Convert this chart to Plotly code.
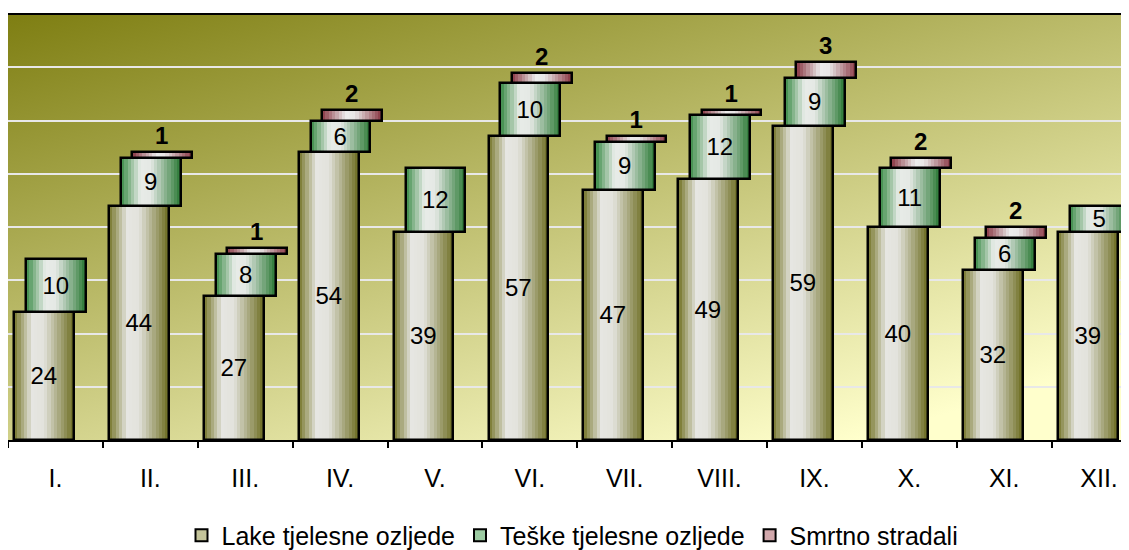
import base64
import plotly.graph_objects as go

months = ["I.", "II.", "III.", "IV.", "V.", "VI.", "VII.", "VIII.", "IX.", "X.", "XI.", "XII."]
lake = [24, 44, 27, 54, 39, 57, 47, 49, 59, 40, 32, 39]
teske = [10, 9, 8, 6, 12, 10, 9, 12, 9, 11, 6, 5]
smrtno = [0, 1, 1, 2, 0, 2, 1, 1, 3, 2, 2, 0]
names = ["Lake tjelesne ozljede", "Teške tjelesne ozljede", "Smrtno stradali"]

BAR_W = 0.63
N_STRIPS = 18


def hex2rgb(h):
    h = h.lstrip("#")
    return tuple(int(h[i:i + 2], 16) for i in (0, 2, 4))


def grad_color(stops, t):
    for (t0, c0), (t1, c1) in zip(stops, stops[1:]):
        if t0 <= t <= t1:
            f = (t - t0) / (t1 - t0) if t1 > t0 else 0
            a, b = hex2rgb(c0), hex2rgb(c1)
            return "rgb(%d,%d,%d)" % tuple(round(a[k] + (b[k] - a[k]) * f) for k in range(3))
    return "rgb(%d,%d,%d)" % hex2rgb(stops[-1][1])


series = [
    dict(values=lake, base=[0] * 12, offset=-0.435,
         stops=[(0, "#76762A"), (0.3, "#E6E6E2"), (0.5, "#E2E2DC"), (1, "#6E6E22")],
         legend="#C4C49A", textpos="inside"),
    dict(values=teske, base=lake, offset=-0.31,
         stops=[(0, "#3A8A46"), (0.32, "#E8ECE8"), (0.5, "#E4E8E4"), (1, "#2C7A36")],
         legend="#9CCBA2", textpos="inside"),
    dict(values=[v if v else None for v in smrtno],
         base=[a + b for a, b in zip(lake, teske)], offset=-0.19,
         stops=[(0, "#8A3844"), (0.4, "#ECECEC"), (0.55, "#E8E6E6"), (1, "#8A3844")],
         legend="#D2A8AC", textpos="outside"),
]

fig = go.Figure()
sw = BAR_W / N_STRIPS
for idx, s in enumerate(series):
    for i in range(N_STRIPS):
        t = (i + 0.5) / N_STRIPS
        fig.add_trace(go.Bar(
            x=months, y=s["values"], base=s["base"],
            offset=s["offset"] + i * sw, width=sw * 1.08,
            marker=dict(color=grad_color(s["stops"], t), line=dict(width=0)),
            showlegend=False, hoverinfo="skip"))
    if s["textpos"] == "inside":
        text = [str(v) for v in s["values"]]
    else:
        text = ["<b>%d</b>" % v if v else "" for v in smrtno]
    fig.add_trace(go.Bar(
        x=months, y=s["values"], base=s["base"],
        offset=s["offset"], width=BAR_W,
        marker=dict(color="rgba(0,0,0,0)", line=dict(color="black", width=2.5)),
        text=text, textposition=s["textpos"], insidetextanchor="middle",
        constraintext="none", textangle=0,
        textfont=dict(family="Liberation Sans, Arial, sans-serif", size=24, color="black"),
        cliponaxis=False, showlegend=False, hoverinfo="skip"))

for idx, s in enumerate(series):
    fig.add_trace(go.Bar(
        x=[None], y=[None], name=names[idx],
        marker=dict(color=s["legend"], line=dict(color="black", width=2))))

svg = ('<svg xmlns="http://www.w3.org/2000/svg" width="1122" height="426" '
       'viewBox="0 0 1122 426" preserveAspectRatio="none"><defs>'
       '<linearGradient id="g" x1="0" y1="0" x2="0.75" y2="1">'
       '<stop offset="0" stop-color="#7E7E12"/>'
       '<stop offset="1" stop-color="#FFFFCC"/></linearGradient></defs>'
       '<rect width="1122" height="426" fill="url(#g)"/></svg>')
src = "data:image/svg+xml;base64," + base64.b64encode(svg.encode()).decode()

fig.update_layout(
    width=1129, height=550,
    margin=dict(l=0, r=0, t=6, b=118, autoexpand=False),
    paper_bgcolor="white", plot_bgcolor="rgba(0,0,0,0)",
    barmode="overlay", bargap=0,
    font=dict(family="Liberation Sans, Arial, sans-serif", color="black"),
    images=[dict(source=src, xref="paper", yref="paper", x=0, y=1, sizex=1, sizey=1,
                 xanchor="left", yanchor="top", sizing="stretch", layer="below")],
    xaxis=dict(type="category", range=[-0.5, 11.4], tickson="boundaries",
               ticks="outside", ticklen=6, tickwidth=2, tickcolor="black",
               showline=True, linecolor="black", linewidth=2, showgrid=False,
               tickfont=dict(size=25), ticklabelstandoff=15, automargin=False),
    yaxis=dict(range=[0, 80], dtick=10, showticklabels=False, ticks="",
               gridcolor="#E8E8E8", gridwidth=2, zeroline=False, automargin=False,
               showline=True, linecolor="black", linewidth=2),
    shapes=[dict(type="line", xref="paper", yref="paper", x0=0, x1=1, y0=1, y1=1,
                 line=dict(color="black", width=2))],
    legend=dict(orientation="h", xref="container", yref="paper",
                x=0.5, xanchor="center", y=-0.17, yanchor="top",
                font=dict(family="Liberation Sans, Arial, sans-serif", size=25),
                itemwidth=30, tracegroupgap=0),
)

fig.write_html("out.html")
